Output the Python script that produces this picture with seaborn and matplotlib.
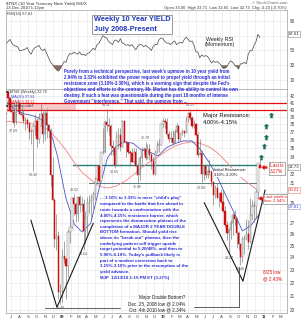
import matplotlib
matplotlib.use("Agg")
import matplotlib.pyplot as plt
import matplotlib.dates as mdates
from matplotlib.path import Path
from matplotlib.ticker import FixedLocator, FixedFormatter, NullLocator
import numpy as np
import pandas as pd
import seaborn as sns

# ---------------- data (10-year yield x10, weekly) ----------------
week_end = pd.date_range("2008-06-13", periods=132, freq="W-FRI")

open_ = [39.6, 42.5, 41.6, 39.8, 39.7, 38.3, 40.8, 40.9, 39.4, 39.3, 38.4, 38.6, 38.1, 37.0, 37.2,
         37.8, 38.5, 36.1, 38.7, 39.4, 36.8, 39.5, 37.9, 37.2, 31.9, 29.3, 25.6, 25.8, 21.3,
         21.4, 24.1, 23.9, 23.3, 26.2, 26.7, 29.5, 28.9, 27.9, 29.6, 28.8, 28.9, 26.3, 27.6, 29.0,
         29.2, 29.5, 29.9, 31.5, 32.9, 31.3, 34.5, 34.6, 38.3, 37.9, 37.8, 35.3, 35.0, 33.0, 36.4,
         36.7, 35.2, 38.5, 35.8, 35.6, 34.5, 34.4, 33.4, 34.6, 32.9, 31.9, 33.8, 34.8, 34.9, 33.8,
         34.9, 34.2, 33.5, 32.0, 34.6, 35.4, 35.4,
         38.0, 38.4, 38.3, 36.8, 36.2, 36.3, 35.6, 37.0, 37.8, 36.1, 36.9, 37.1, 36.9, 38.6, 39.5,
         38.8, 37.8, 38.1, 36.6, 34.2, 34.4, 32.0, 32.9, 31.9, 32.3, 32.2, 31.1, 29.8, 30.5, 29.5,
         30.0, 29.1, 28.2, 26.8, 26.1, 26.4, 27.0, 27.8, 27.4, 26.1, 25.1, 24.0, 25.6, 25.6, 26.0,
         25.3, 27.8, 28.7, 28.7, 30.1, 33.0]
high = [42.7, 42.8, 41.8, 40.2, 40.2, 41.2, 41.5, 41.0, 40.6, 39.9, 39.0, 38.8, 38.5, 37.4, 38.1,
        39.4, 38.8, 39.6, 40.8, 39.8, 40.0, 40.2, 38.0, 37.5, 33.9, 29.5, 27.9, 26.3, 21.9,
        24.7, 25.4, 24.0, 26.5, 28.0, 29.6, 29.92, 29.1, 29.7, 29.8, 29.6, 29.4, 28.2, 29.6, 29.8,
        29.9, 30.2, 31.7, 32.9, 32.9, 34.5, 37.5, 38.6, 40.11, 38.9, 38.1, 36.0, 35.1, 37.1, 37.5,
        37.5, 38.6, 38.5, 35.9, 35.8, 34.8, 35.0, 35.0, 35.0, 33.2, 34.1, 35.1, 35.2, 35.79, 35.5,
        35.5, 34.5, 33.9, 34.8, 35.9, 36.2, 38.1,
        38.9, 38.8, 38.9, 37.2, 37.1, 37.3, 37.4, 38.2, 37.9, 36.9, 37.4, 37.1, 39.1, 39.7, 40.13,
        39.1, 38.6, 38.2, 37.0, 36.2, 34.8, 33.0, 33.2, 32.9, 33.7, 32.5, 31.1, 30.8, 31.0, 30.1,
        30.4, 30.3, 28.7, 27.2, 26.6, 27.3, 28.0, 28.3, 27.6, 26.3, 25.2, 25.8, 25.9, 27.4, 27.3,
        29.5, 29.3, 29.2, 30.3, 33.3, 33.71]
low = [39.4, 41.0, 39.7, 38.6, 37.69, 38.0, 39.9, 39.2, 38.8, 38.2, 37.3, 37.5, 36.2, 35.5, 32.32,
       36.6, 35.2, 35.7, 37.9, 35.6, 36.0, 36.3, 36.3, 30.7, 29.3, 24.9, 24.6, 20.8, 20.40,
       20.6, 23.5, 20.8, 22.4, 25.2, 26.5, 27.8, 27.1, 27.2, 28.1, 28.2, 24.64, 25.1, 26.0, 28.0,
       27.4, 28.4, 29.3, 31.0, 30.8, 31.2, 34.3, 34.4, 37.2, 36.6, 34.2, 34.2, 32.65, 32.9, 34.9,
       34.7, 35.1, 35.8, 34.0, 34.3, 32.9, 33.4, 33.3, 32.9, 31.06, 31.4, 33.2, 34.2, 33.6, 33.7,
       33.6, 32.6, 31.9, 31.9, 34.4, 34.5, 35.4,
       37.6, 37.6, 36.5, 35.8, 35.9, 35.4, 35.6, 36.9, 35.8, 35.9, 36.6, 36.4, 36.9, 38.3, 38.6,
       37.6, 37.5, 36.5, 33.9, 34.2, 30.90, 31.4, 31.6, 31.6, 31.9, 30.7, 28.8, 29.5, 29.5, 28.6,
       29.0, 28.1, 26.7, 25.5, 24.27, 25.6, 25.9, 26.8, 24.8, 24.6, 23.40, 23.6, 24.3, 25.5, 24.7,
       25.2, 27.3, 27.1, 27.5, 29.4, 32.65]
close = [42.6, 41.6, 39.8, 39.7, 38.2, 40.9, 41.0, 39.4, 39.3, 38.4, 38.6, 38.1, 37.0, 37.2, 37.8,
         38.5, 36.1, 38.7, 39.4, 36.8, 39.5, 37.9, 37.2, 31.9, 29.3, 25.6, 25.8, 21.3, 21.4,
         24.1, 23.9, 23.3, 26.2, 26.7, 29.5, 28.9, 27.9, 29.6, 28.8, 28.9, 26.3, 27.6, 29.0, 29.2,
         29.5, 29.9, 31.5, 32.9, 31.3, 34.5, 34.6, 38.3, 37.9, 37.8, 35.3, 35.0, 33.0, 36.4, 36.7,
         35.2, 38.5, 35.8, 35.6, 34.5, 34.4, 33.4, 34.6, 32.9, 31.9, 33.8, 34.8, 34.9, 33.8, 34.9,
         34.2, 33.5, 32.0, 34.6, 35.4, 35.4, 38.0,
         38.4, 38.3, 36.8, 36.2, 36.3, 35.6, 37.0, 37.8, 36.1, 36.9, 37.1, 36.9, 38.6, 39.5, 38.8,
         37.8, 38.1, 36.6, 34.2, 34.4, 32.0, 32.9, 31.9, 32.3, 32.2, 31.1, 29.8, 30.5, 29.5, 30.0,
         29.1, 28.2, 26.8, 26.1, 26.4, 27.0, 27.8, 27.4, 26.1, 25.1, 24.0, 25.6, 25.6, 26.0, 25.3,
         27.8, 28.7, 28.7, 30.1, 33.3, 32.73]

rsi = [59, 62, 65, 60, 57, 56, 55, 50, 50, 51, 52, 54, 48, 45, 51, 54, 55, 57, 52, 50,
       52, 46, 40, 34, 31, 27, 24, 22, 25, 30, 35, 34, 42, 46, 45, 48, 46, 45, 48, 44,
       45, 43, 46, 47, 50, 53, 51, 58, 60, 65, 70, 68, 67, 62, 60, 58, 64, 64, 61, 66,
       60, 59, 57, 58, 56, 58, 54, 51, 56, 58, 58, 55, 57, 55, 53, 50, 56, 58, 58, 65,
       67, 66, 62, 60, 60, 58, 61, 63, 58, 60, 61, 60, 65, 68, 65, 62, 63, 57, 48, 48,
       40, 44, 42, 43, 42, 38, 33, 36, 34, 35, 33, 30, 26, 26, 28, 33, 36, 34, 30, 28,
       25, 32, 32, 34, 32, 45, 50, 50, 57, 62, 72, 67.61]

ma_dates = list(pd.date_range("2008-06-01", periods=30, freq="MS") + pd.Timedelta(days=14)) + [pd.Timestamp("2010-12-13")]
ma20 = [41.0, 40.0, 39.45, 39.2, 38.8, 37.8, 34.2,
        29.5, 26.9, 26.2, 27.0, 30.4, 33.9, 35.2, 35.8, 35.6, 34.8, 34.5, 34.1,
        35.1, 35.6, 35.9, 35.9, 34.9, 33.4, 31.8, 29.8, 28.0, 26.3, 26.8, 27.81]
ma50 = [38.4, 38.4, 38.2, 38.1, 37.8, 37.3, 36.1,
        34.8, 33.3, 32.2, 31.4, 30.7, 30.5, 30.7, 31.2, 31.9, 32.7, 33.4, 34.0,
        34.7, 35.3, 35.6, 35.8, 35.6, 35.2, 34.5, 33.5, 32.4, 31.5, 30.8, 30.21]

label_weeks = ["2008-07-11", "2008-09-19", "2008-12-26", "2009-02-13", "2009-03-20", "2009-06-12",
               "2009-07-10", "2009-10-02", "2009-10-30", "2010-04-09", "2010-05-21", "2010-08-27",
               "2010-10-08"]
label_kind = ["L", "L", "L", "H", "L", "H", "L", "L", "H", "H", "L", "L", "L"]

resist_major = [40.0, 41.0]
resist_initial = [33.0, 31.0]
resist_initial_span = [("2009-02-10", "2010-12-14"), ("2009-04-10", "2010-12-10")]

v1_dates = ["2008-09-11", "2008-12-14", "2009-04-24"]
v1_vals = [27.3, 20.2, 27.0]
v2_dates = ["2010-05-30", "2010-10-17", "2011-01-05"]
v2_vals = [29.0, 22.1, 30.3]
conn1_dates = ["2008-11-01", "2009-07-30"]
conn1_vals = [20.15, 20.15]
conn2_dates = ["2010-10-03", "2010-10-03", "2010-04-23"]
conn2_vals = [23.2, 20.2, 20.2]

target_dates = ["2010-12-21", "2011-01-01", "2011-01-08", "2011-01-08", "2011-01-26"]
target_vals = [34.0, 35.3, 36.4, 37.8, 39.2]
pointer_dates = ["2011-01-01", "2010-12-21"]
pointer_vals = [32.8, 29.5]

month_labels = ["J", "A", "S", "O", "N", "D", "09", "F", "M", "A", "M", "J", "J", "A", "S", "O", "N",
                "D", "10", "F", "M", "A", "M", "J", "J", "A", "S", "O", "N", "D", "11", "F", "M"]
month_ticks = pd.date_range("2008-07-01", periods=33, freq="MS")
y_ticks = list(range(20, 43))
y_hidden = [28, 30, 33]          # covered by the value tags on the right axis
rsi_ticks = [10, 30, 50, 70, 90]
rsi_hidden = [70]

# ---------------- style ----------------
sns.set_theme(style="white")
plt.rcParams["font.family"] = ["Liberation Sans", "DejaVu Sans"]

W, H = 303, 320
fig = plt.figure(figsize=(W / 100, H / 100), dpi=100)
fig.patch.set_facecolor("white")

def fx(x):
    return x / W

def fy(y):
    return 1 - y / H

def ft(x, y, s, **kw):
    return fig.text(fx(x), fy(y), s, **kw)

left, right = 6, 287
ax_r = fig.add_axes([fx(left), fy(89), (right - left) / W, (89 - 10) / H])
ax = fig.add_axes([fx(left), fy(313), (right - left) / W, (313 - 89) / H], sharex=ax_r)

x = mdates.date2num(week_end)
o = np.array(open_); h = np.array(high); l = np.array(low); c = np.array(close)
xlim = (mdates.date2num(pd.Timestamp("2008-06-13")), mdates.date2num(pd.Timestamp("2011-03-25")))

grid_c = "#e4e4e4"
for a in (ax, ax_r):
    a.set_facecolor("white")
    for sp in a.spines.values():
        sp.set_color("#a0a0a0")
        sp.set_linewidth(0.5)
    a.set_xlim(*xlim)
    a.xaxis.set_major_locator(FixedLocator(mdates.date2num(month_ticks)))
    a.grid(True, color=grid_c, lw=0.4)
    a.tick_params(length=0)

# ---------------- RSI panel ----------------
rs = np.array(rsi, dtype=float)
sns.lineplot(x=week_end, y=rs, ax=ax_r, color="#555555", lw=0.55)
ax_r.fill_between(x, rs, 30, where=rs < 30, interpolate=True, color="#8b6a60", lw=0)
ax_r.set_ylim(-2.2, 104.9)
ax_r.yaxis.set_major_locator(FixedLocator(rsi_ticks))
ax_r.yaxis.set_major_formatter(FixedFormatter(["" if t in rsi_hidden else str(t) for t in rsi_ticks]))
ax_r.yaxis.tick_right()
ax_r.tick_params(axis="y", labelsize=3.4, pad=2, labelcolor="#444")
ax_r.tick_params(axis="x", labelbottom=False)
ax_r.set_xlabel(""); ax_r.set_ylabel("")

# ---------------- main panel ----------------
ax.set_yscale("log")
ax.set_ylim(19.8, 42.96)
ax.yaxis.set_major_locator(FixedLocator(y_ticks))
ax.yaxis.set_major_formatter(FixedFormatter(["" if t in y_hidden else str(t) for t in y_ticks]))
ax.yaxis.set_minor_locator(NullLocator())
ax.yaxis.tick_right()
ax.tick_params(axis="y", labelsize=3.3, pad=2, labelcolor="#444")
ax.xaxis.set_major_formatter(FixedFormatter(month_labels))
ax.tick_params(axis="x", labelsize=3.1, pad=1.5, labelcolor="#444")
for t, s in zip(ax.get_xticklabels(), month_labels):
    if s.isdigit():
        t.set_fontweight("bold")

# pink zone + resistance lines
ax.fill_between([xlim[0], mdates.date2num(pd.Timestamp("2009-02-20"))], resist_major[0], resist_major[1],
                color="#f7c9c9", lw=0, zorder=1)
for v in resist_major:
    ax.axhline(v, color="#e01010", lw=0.9, zorder=2)
for v, (d0, d1), col, lw in zip(resist_initial, resist_initial_span, ["#2b7f78", "#557f7c"], [1.0, 0.7]):
    ax.plot(mdates.date2num(pd.to_datetime([d0, d1])), [v, v], color=col, lw=lw, zorder=2)

# moving averages
sns.lineplot(x=ma_dates, y=ma50, ax=ax, color="#f08080", lw=0.6, zorder=3)
sns.lineplot(x=ma_dates, y=ma20, ax=ax, color="#4a55c8", lw=0.6, zorder=3)

# candles
up = c >= o
ax.vlines(x, l, h, color="#777777", lw=0.45, zorder=4)
bot = np.minimum(o, c)
hgt = np.maximum(np.abs(c - o), 0.08)
ax.bar(x[up], hgt[up], bottom=bot[up], width=4.6, color="white", edgecolor="#7a7a7a", lw=0.35, zorder=5)
ax.bar(x[~up], hgt[~up], bottom=bot[~up], width=4.6, color="#dd1010", edgecolor="#cc0000", lw=0.3, zorder=5)

# price labels
wk = {d: i for i, d in enumerate(week_end.strftime("%Y-%m-%d"))}
for d, k in zip(label_weeks, label_kind):
    i = wk[d]
    if k == "H":
        ax.annotate(f"{h[i]:.2f}", (x[i], h[i]), xytext=(0, 1.5), textcoords="offset points",
                    ha="center", va="bottom", fontsize=2.6, color="#555", zorder=6)
    else:
        ax.annotate(f"{l[i]:.2f}", (x[i], l[i]), xytext=(0, -1.5), textcoords="offset points",
                    ha="center", va="top", fontsize=2.6, color="#555", zorder=6)

# V lines and connectors
ax.plot(mdates.date2num(pd.to_datetime(v1_dates)), v1_vals, color="#1a1a1a", lw=0.8, zorder=6)
ax.plot(mdates.date2num(pd.to_datetime(v2_dates)), v2_vals, color="#1a1a1a", lw=0.8, zorder=6)
ax.plot(mdates.date2num(pd.to_datetime(conn1_dates)), conn1_vals, color="#444", lw=0.6, zorder=6)
ax.plot(mdates.date2num(pd.to_datetime(conn2_dates)), conn2_vals, color="#444", lw=0.6, zorder=6)

# arrows
up_arrow = Path([(0, 1), (-1, 0.1), (-0.45, 0.1), (-0.45, -1), (0.45, -1), (0.45, 0.1), (1, 0.1), (0, 1)], closed=True)
left_arrow = Path([(-1, 0), (0, 0.9), (0, 0.4), (1, 0.4), (1, -0.4), (0, -0.4), (0, -0.9), (-1, 0)], closed=True)
ax.scatter(mdates.date2num(pd.to_datetime(target_dates)), target_vals, marker=up_arrow, s=16,
           color="#1d6e64", lw=0, zorder=7, clip_on=False)
ax.scatter(mdates.date2num(pd.to_datetime(pointer_dates)), pointer_vals, marker=left_arrow, s=18,
           color="#e01010", lw=0, zorder=7, clip_on=False)
ax.set_xlabel(""); ax.set_ylabel("")

# ---------------- texts ----------------
blue = "#2b2bd9"
ft(6, 3.5, "$TNX (10 Year Treasury Note Yield) INDX", fontsize=3.2, va="center", color="#333")
ft(6, 8.5, "13-Dec-2010 1:12pm", fontsize=3.0, va="center", color="#333")
ft(287, 3.5, "© StockCharts.com", fontsize=3.0, va="center", ha="right", color="#666")
ft(287, 8.5, "Open 33.00  High 33.71  Low 32.65  Last 32.73  Chg -0.23 (-0.70%)", fontsize=3.0,
   va="center", ha="right", color="#333")
ft(7, 14, "RSI(14) 67.61", fontsize=3.0, va="center", color="#333")

ft(94, 24.5, "Weekly 10 Year YIELD\nJuly 2008-Present", fontsize=5.3, fontweight="bold", color="#2036b8",
   va="center", ha="left", linespacing=1.45,
   bbox=dict(boxstyle="square,pad=0.25", fc="white", ec="#8a8a8a", lw=0.6))
ft(220, 42, "Weekly RSI\n(Momentum)", fontsize=3.8, ha="center", va="center", color="#222", linespacing=1.1)

para1 = ("Purely from a technical perspective, last week's upmove in 10 year yield from\n"
         "2.94% to 3.33% exhibited the power required to propel yield through an initial\n"
         "resistance zone (3.10%-3.30%), which is a warning sign that despite the Fed's\n"
         "objectives and efforts to the contrary, Mr. Market has the ability to control its own\n"
         "destiny. If such a feat was questionable during the past 18 months of intense\n"
         "Government \"interference.\" That said, the upmove from ...")
ft(64, 69.5, para1, fontsize=3.25, fontweight="bold", color=blue, va="top", ha="left", linespacing=1.21)

para2 = ("... 3.10% to 3.33% is mere \"child's play\"\n"
         "compared to the battle that lies ahead in\n"
         "route towards a confrontation with the\n"
         "4.00%-4.15% resistance barrier, which\n"
         "represents the demarcation plateau of the\n"
         "completion of a MAJOR 2 YEAR DOUBLE\n"
         "BOTTOM formation. Should yield rise\n"
         "above its \"break out\" plateau, then the\n"
         "underlying pattern will trigger upside\n"
         "target potential to 5.20/48%, and then to\n"
         "5.90%-6.10%. Today's pullback likely is\n"
         "part of a modest correction back to\n"
         "3.15%-3.10% prior to the resumption of the\n"
         "yield advance.\n"
         "MJP  12/13/10 1:15 PM ET (3.27%)")
ft(100, 196.5, para2, fontsize=3.15, fontweight="bold", color=blue, va="top", ha="left", linespacing=1.55)

ft(203, 119, "Major Resistance:\n4.00%-4.15%", fontsize=4.2, color="#111", va="center", ha="left", linespacing=1.35)
ft(214, 172.5, "Initial Resistance:\n3.10%-3.30%", fontsize=3.0, color="#111", va="center", ha="left",
   linespacing=1.25, bbox=dict(boxstyle="square,pad=0.1", fc="white", ec="none"))
ft(270, 168.5, "Last is\n3.27%", fontsize=3.3, color="#e01010", va="center", ha="left", linespacing=1.25,
   bbox=dict(boxstyle="square,pad=0.25", fc="white", ec="#888", lw=0.5))
ft(263.5, 199, "Last week's\nlow: 2.94%", fontsize=3.2, color="#e01010", va="center", ha="left", linespacing=1.25,
   bbox=dict(boxstyle="square,pad=0.2", fc="white", ec="#888", lw=0.5))
ft(263, 275.5, "8/25 low\n@ 2.43%", fontsize=3.3, color="#e01010", va="center", ha="left", linespacing=1.3)
ft(185, 304, "Major Double Bottom?\nDec. 25, 2008 low @ 2.04%\nOct. 4th 2010 low @ 2.34%", fontsize=3.3,
   color="#222", va="center", ha="right", linespacing=1.3)

# legend lines
ft(6, 92.5, "\u25a0 $TNX (Weekly) 32.73", fontsize=2.8, color="#333", va="center")
ft(6, 97, "\u2014 MA(20) 27.81", fontsize=2.8, color="#3344cc", va="center")
ft(6, 101.5, "\u2014 MA(50) 30.21", fontsize=2.8, color="#e03030", va="center")
ft(6, 106, "\u25a0 Volume undef", fontsize=2.8, color="#333", va="center")

# right-axis value tags
ft(288.5, 34, "67.61", fontsize=3.1, color="#222", va="center", ha="left",
   bbox=dict(boxstyle="square,pad=0.15", fc="white", ec="#888", lw=0.4))
ft(288.5, 167, "32.73", fontsize=3.1, color="#222", va="center", ha="left",
   bbox=dict(boxstyle="square,pad=0.15", fc="white", ec="#888", lw=0.4))
ft(288.5, 190, "30.21", fontsize=3.1, color="#e01010", va="center", ha="left",
   bbox=dict(boxstyle="square,pad=0.15", fc="white", ec="#e08080", lw=0.4))
ft(289, 206.5, "27.81", fontsize=3.1, color="#3344cc", va="center", ha="left",
   bbox=dict(boxstyle="square,pad=0.15", fc="white", ec="#8090d0", lw=0.4))

fig.savefig("out.png", dpi=100, facecolor="white")
